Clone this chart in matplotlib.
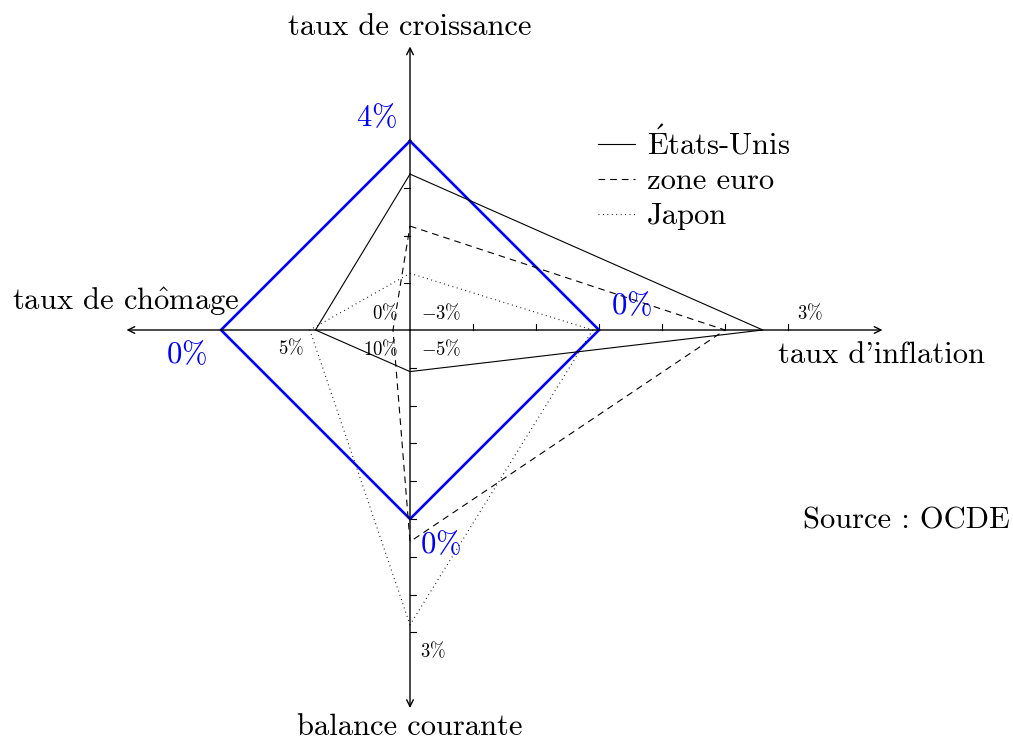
import numpy as np
import matplotlib
matplotlib.use('Agg')
import matplotlib.pyplot as plt

plt.rcParams['font.family'] = ['cmr10', 'DejaVu Serif']
plt.rcParams['mathtext.fontset'] = 'cm'
plt.rcParams['axes.unicode_minus'] = False

# données (OCDE)
pays = [r'$\acute{\mathrm{E}}$tats-Unis', 'zone euro', 'Japon']
croissance = [3.3, 2.2, 1.2]     # %
inflation = [2.6, 2.0, -0.1]     # %
balance = [-3.9, 0.6, 2.8]       # % du PIB
chomage = [5.0, 9.1, 4.7]        # %
styles = ['-', (0, (6, 4.5)), (0, (0.8, 3.2))]

# carré magique (objectifs)
obj_croissance = 4
obj_inflation = 0
obj_balance = 0
obj_chomage = 0

# echelles des axes (valeur -> unites)
def y_croissance(g):
    return g * 0.75

def x_inflation(i):
    return (i + 3) * 1.0

def y_balance(b):
    return -(b + 5) * 0.6

def x_chomage(u):
    return -(10 - u) * 0.3

def polygone(g, i, b, u):
    xs = [0, x_inflation(i), 0, x_chomage(u), 0]
    ys = [y_croissance(g), 0, y_balance(b), 0, y_croissance(g)]
    return xs, ys

S = 63.0          # pixels par unite
X0, Y0 = 410, 330  # origine en pixels

def px(x, y):
    return ((x - X0) / S, (Y0 - y) / S)

fig = plt.figure(figsize=(10.13, 7.42), dpi=100)
ax = fig.add_axes([0, 0, 1, 1])
ax.set_xlim(-X0 / S, (1013 - X0) / S)
ax.set_ylim(-(742 - Y0) / S, Y0 / S)
ax.axis('off')

# axes fleches
arrow = dict(arrowstyle='->', lw=1.0, color='black', shrinkA=0, shrinkB=0,
             mutation_scale=12)
for end in [(7.5, 0), (-4.5, 0), (0, 4.5), (0, -6.0)]:
    ax.annotate('', xy=end, xytext=(0, 0), arrowprops=arrow)

# graduations
t = 0.1
for k in range(1, 7):
    ax.plot([x_inflation(k - 3)] * 2, [0, t], color='black', lw=0.8)
for k in range(1, 4):
    ax.plot([-t, 0], [y_croissance(k)] * 2, color='black', lw=0.8)
for k in range(1, 9):
    ax.plot([0, t], [y_balance(k - 5)] * 2, color='black', lw=0.8)

# carre objectif
xs, ys = polygone(obj_croissance, obj_inflation, obj_balance, obj_chomage)
ax.plot(xs, ys, color='blue', lw=1.9, solid_joinstyle='miter')

handles = []
for n, p in enumerate(pays):
    xs, ys = polygone(croissance[n], inflation[n], balance[n], chomage[n])
    h, = ax.plot(xs, ys, color='black', lw=0.8, linestyle=styles[n], label=p)
    handles.append(h)

# titres des axes
big = 22
ax.text(*px(410, 27), 'taux de croissance', ha='center', va='center', fontsize=big)
ax.text(*px(410, 727), 'balance courante', ha='center', va='center', fontsize=big)
ax.text(*px(240, 302), r'taux de ch$\hat{\mathrm{o}}$mage', ha='right', va='center',
        fontsize=big)
ax.text(*px(778, 355), "taux d'inflation", ha='left', va='center', fontsize=big)
ax.text(*px(1010, 521), 'Source : OCDE', ha='right', va='center', fontsize=big)

# valeurs objectifs
blue = 22
ax.text(*px(377, 118), r'$4\%$', ha='center', va='center', fontsize=blue, color='blue')
ax.text(*px(632, 306), r'$0\%$', ha='center', va='center', fontsize=blue, color='blue')
ax.text(*px(187, 355), r'$0\%$', ha='center', va='center', fontsize=blue, color='blue')
ax.text(*px(441, 545), r'$0\%$', ha='center', va='center', fontsize=blue, color='blue')

# petites etiquettes
small = 13.5
for lab, x, y in [(r'$0\%$', 385, 313), (r'$-3\%$', 441, 313),
                  (r'$10\%$', 381, 349), (r'$-5\%$', 441, 349),
                  (r'$5\%$', 291, 348), (r'$3\%$', 810, 313),
                  (r'$3\%$', 433, 651)]:
    ax.text(*px(x, y), lab, ha='center', va='center', fontsize=small)

ax.legend(handles=handles, loc='upper left', bbox_to_anchor=(598 / 1013, 1 - 126 / 742),
          frameon=False, fontsize=big, handlelength=1.2, handletextpad=0.4,
          labelspacing=0.24, borderaxespad=0, borderpad=0)

fig.savefig('out.png', dpi=100)
